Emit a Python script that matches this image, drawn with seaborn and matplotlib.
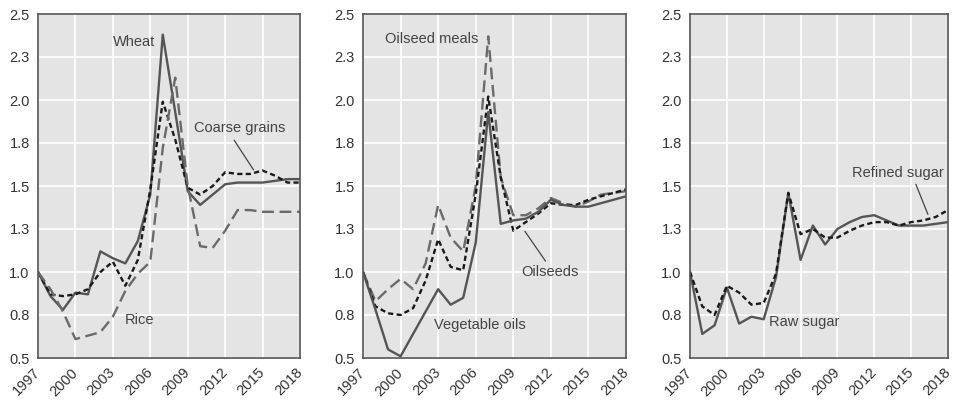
import pandas as pd
import matplotlib
matplotlib.use("Agg")
import matplotlib.pyplot as plt
import seaborn as sns

# ------------------------------------------
# Data (index, 1997 = 1)
# ------------------------------------------
years = list(range(1997, 2019))

wheat = [1.0, 0.86, 0.78, 0.88, 0.87, 1.12, 1.08, 1.05, 1.18, 1.45, 2.38, 1.93,
         1.47, 1.39, 1.45, 1.51, 1.52, 1.52, 1.52, 1.53, 1.54, 1.54]
coarse_grains = [1.0, 0.87, 0.86, 0.87, 0.9, 1.0, 1.06, 0.92, 1.07, 1.48, 1.99, 1.77,
                 1.49, 1.45, 1.5, 1.58, 1.57, 1.57, 1.59, 1.56, 1.52, 1.52]
rice = [1.0, 0.9, 0.77, 0.61, 0.63, 0.65, 0.74, 0.89, 0.99, 1.06, 1.72, 2.13,
        1.5, 1.15, 1.14, 1.24, 1.36, 1.36, 1.35, 1.35, 1.35, 1.35]

oilseed_meals = [1.0, 0.83, 0.9, 0.96, 0.9, 1.05, 1.39, 1.2, 1.12, 1.5, 2.37, 1.55,
                 1.33, 1.33, 1.37, 1.43, 1.4, 1.38, 1.41, 1.45, 1.46, 1.47]
oilseeds = [1.0, 0.8, 0.76, 0.75, 0.79, 0.95, 1.19, 1.03, 1.01, 1.45, 2.02, 1.55,
            1.24, 1.29, 1.34, 1.4, 1.39, 1.39, 1.42, 1.44, 1.46, 1.48]
vegetable_oils = [1.0, 0.78, 0.55, 0.51, 0.64, 0.77, 0.9, 0.81, 0.85, 1.17, 1.93, 1.28,
                  1.3, 1.31, 1.35, 1.42, 1.39, 1.38, 1.38, 1.4, 1.42, 1.44]

raw_sugar = [1.0, 0.64, 0.69, 0.91, 0.7, 0.74, 0.725, 0.97, 1.46, 1.07, 1.27, 1.16,
             1.25, 1.29, 1.32, 1.33, 1.3, 1.27, 1.27, 1.27, 1.28, 1.29]
refined_sugar = [1.0, 0.8, 0.75, 0.92, 0.88, 0.81, 0.82, 0.99, 1.46, 1.22, 1.25, 1.2,
                 1.2, 1.24, 1.27, 1.29, 1.29, 1.27, 1.29, 1.3, 1.32, 1.36]

y_ticks = [0.5, 0.75, 1.0, 1.25, 1.5, 1.75, 2.0, 2.25, 2.5]
y_labels = ["0.5", "0.8", "1.0", "1.3", "1.5", "1.8", "2.0", "2.3", "2.5"]
x_ticks = [1997, 2000, 2003, 2006, 2009, 2012, 2015, 2018]

# line styles
SOLID = dict(color="#555555", dashes=None)
DOTTED = dict(color="#1a1a1a", dashes=(2.2, 1.4))
LONGDASH = dict(color="#6a6a6a", dashes=(5.0, 2.4))

panels = [
    [("Wheat", wheat, SOLID), ("Coarse grains", coarse_grains, DOTTED), ("Rice", rice, LONGDASH)],
    [("Oilseed meals", oilseed_meals, LONGDASH), ("Oilseeds", oilseeds, DOTTED),
     ("Vegetable oils", vegetable_oils, SOLID)],
    [("Raw sugar", raw_sugar, SOLID), ("Refined sugar", refined_sugar, DOTTED)],
]

# ------------------------------------------
# Figure
# ------------------------------------------
sns.set_style("darkgrid", {"axes.facecolor": "#e4e4e4", "grid.color": "white"})
plt.rcParams['font.family'] = ['Liberation Sans', 'DejaVu Sans']

fig = plt.figure(figsize=(9.56, 4.05), dpi=100)
lefts = [38, 363, 690]
widths = [262, 263, 258]
axes = []
for l, w in zip(lefts, widths):
    axes.append(fig.add_axes([l / 956, 47 / 405, w / 956, 344 / 405]))

for ax, series in zip(axes, panels):
    for name, vals, st in series:
        d = pd.DataFrame({"year": years, "value": vals})
        sns.lineplot(data=d, x="year", y="value", ax=ax, color=st["color"], linewidth=1.7)
        if st["dashes"] is not None:
            ax.lines[-1].set_dashes(st["dashes"])
    ax.set_xlim(1997, 2018)
    ax.set_ylim(0.5, 2.5)
    ax.set_yticks(y_ticks)
    ax.set_yticklabels(y_labels)
    ax.set_xticks(x_ticks)
    ax.set_xticklabels([str(x) for x in x_ticks], rotation=45, ha="right", va="center",
                       rotation_mode="anchor")
    ax.set_xlabel("")
    ax.set_ylabel("")
    ax.grid(True, color="white", linewidth=1.2)
    ax.tick_params(axis="both", direction="in", length=4, width=1, color="#444444",
                   labelsize=10.5, labelcolor="#333333")
    ax.tick_params(axis="x", pad=9)
    ax.tick_params(axis="y", pad=6)
    for sp in ax.spines.values():
        sp.set_visible(True)
        sp.set_color("#555555")
        sp.set_linewidth(1.2)

txt = dict(fontsize=10.5, color="#444444")
arrow = dict(arrowstyle="-", color="#444444", lw=0.9)

a1, a2, a3 = axes
a1.text(2006.4, 2.34, "Wheat", ha="right", va="center", **txt)
a1.text(2013.2, 1.84, "Coarse grains", ha="center", va="center", **txt)
a1.annotate("", xy=(2014.4, 1.58), xytext=(2012.6, 1.78), arrowprops=arrow)
a1.text(2005.1, 0.72, "Rice", ha="center", va="center", **txt)

a2.text(2002.5, 2.355, "Oilseed meals", ha="center", va="center", **txt)
a2.text(2011.9, 1.0, "Oilseeds", ha="center", va="center", **txt)
a2.annotate("", xy=(2009.8, 1.25), xytext=(2011.7, 1.05), arrowprops=arrow)
a2.text(2006.3, 0.69, "Vegetable oils", ha="center", va="center", **txt)

a3.text(2013.9, 1.575, "Refined sugar", ha="center", va="center", **txt)
a3.annotate("", xy=(2016.45, 1.32), xytext=(2015.3, 1.525), arrowprops=arrow)
a3.text(2006.3, 0.71, "Raw sugar", ha="center", va="center", **txt)

fig.savefig("out.png", dpi=100)
